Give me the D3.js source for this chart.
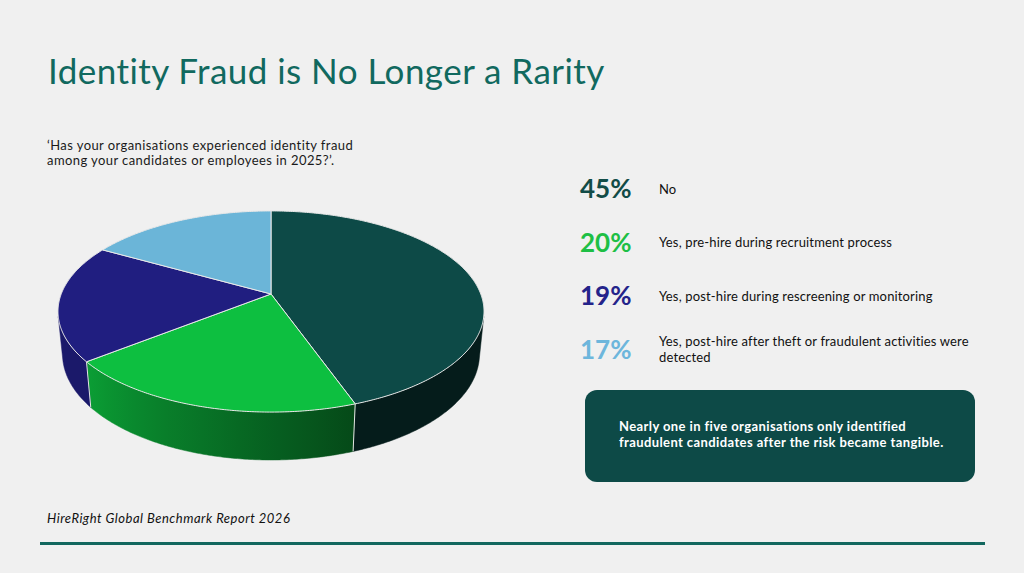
<!DOCTYPE html>
<html>
<head>
<meta charset="utf-8">
<script src="https://cdn.jsdelivr.net/npm/d3@7"></script>
<style>
  body { margin: 0; background: #f0f0f0; }
  svg { display: block; }
  text { font-family: Lato, "Open Sans", sans-serif; }
</style>
</head>
<body>
<div id="canvas"></div>
<script>
var width = 1024;
var height = 573;

// survey answers, clockwise from 12 o'clock
var answers = ["No", "Yes, pre-hire during recruitment process", "Yes, post-hire during rescreening or monitoring", "Yes, post-hire after theft or fraudulent activities were detected"];
var shares = [45, 20, 19, 17];
var pctLabels = ["45%", "20%", "19%", "17%"];
var sliceColors = ["#0d4a47", "#0dbf40", "#201e80", "#6bb5d8"];
var pctColors = ["#124c47", "#1ebf45", "#24238a", "#6db6dc"];
var labelLines = [["No"], ["Yes, pre-hire during recruitment process"], ["Yes, post-hire during rescreening or monitoring"], ["Yes, post-hire after theft or fraudulent activities were", "detected"]];

function createCanvas(select, width, height, color) {
  return d3
    .select(select)
    .append("svg")
    .attr("width", width)
    .attr("height", height)
    .style("background-color", color);
}

var canvas = createCanvas("#canvas", width, height, "#f0f0f0");

// title + question
canvas.append("text")
  .attr("x", 48)
  .attr("y", 84)
  .attr("font-size", 35)
  .attr("letter-spacing", 0.45)
  .attr("fill", "#11695f")
  .text("Identity Fraud is No Longer a Rarity");

var question = ["\u2018Has your organisations experienced identity fraud", "among your candidates or employees in 2025?\u2019."];
canvas.selectAll(".question")
  .data(question)
  .join("text")
  .attr("class", "question")
  .attr("x", 47)
  .attr("y", function (d, i) { return 150 + i * 15; })
  .attr("font-size", 13)
  .attr("letter-spacing", 0.42)
  .attr("fill", "#1a1a1a")
  .text(function (d) { return d; });

// ---- 3d pie with perspective ----
var cam = {
  cx: 271, cy: 294,   // screen pos of pie centre
  f: 1066.7,          // focal length
  dist: 5.085,        // camera distance (in pie radii)
  tilt: 27.7 * Math.PI / 180,
  depth: 0.232        // thickness (in pie radii)
};
var sinT = Math.sin(cam.tilt), cosT = Math.cos(cam.tilt);

function project(theta, h) {
  var X = Math.sin(theta), Y = Math.cos(theta);
  var z = cam.dist + Y * cosT - h * sinT;
  var up = Y * sinT + h * cosT;
  return [cam.cx + cam.f * X / z, cam.cy - cam.f * up / z];
}

// visible side wall lies between the two silhouette angles
var silA = Math.acos(-1 / (cam.dist * cosT));
var silB = 2 * Math.PI - silA;

function arcPoints(a0, a1, h) {
  var n = Math.max(2, Math.ceil(Math.abs(a1 - a0) / 0.01));
  return d3.range(n + 1).map(function (k) {
    return project(a0 + (a1 - a0) * k / n, h);
  });
}

// shading of the wall: lit from the left
function wallShade(theta) {
  var t = (theta * 180 / Math.PI - 160) / 72;
  t = Math.max(0, Math.min(1, t));
  return 0.38 + 0.45 * t;
}
function shadeColor(col, k) {
  var c = d3.rgb(col);
  return d3.rgb(c.r * k, c.g * k, c.b * k).formatHex();
}

var pie = d3.pie().sort(null).startAngle(0).endAngle(2 * Math.PI);
var slices = pie(shares).map(function (d, i) {
  d.color = sliceColors[i];
  d.i = i;
  return d;
});

var line = d3.line();
var defs = canvas.append("defs");
var pieG = canvas.append("g");

// walls
var walls = slices.filter(function (d) {
  return d.endAngle > silA && d.startAngle < silB;
}).map(function (d) {
  d.w0 = Math.max(d.startAngle, silA);
  d.w1 = Math.min(d.endAngle, silB);
  return d;
});

walls.forEach(function (d) {
  var p0 = project(d.w0, 0), p1 = project(d.w1, 0);
  var g = defs.append("linearGradient")
    .attr("id", "wall" + d.i)
    .attr("gradientUnits", "userSpaceOnUse")
    .attr("x1", p0[0]).attr("y1", 0)
    .attr("x2", p1[0]).attr("y2", 0);
  d3.range(9).forEach(function (k) {
    var th = d.w0 + (d.w1 - d.w0) * k / 8;
    var px = project(th, 0)[0];
    g.append("stop")
      .attr("offset", (px - p0[0]) / (p1[0] - p0[0]))
      .attr("stop-color", shadeColor(d.color, wallShade(th)));
  });
});

pieG.selectAll(".wall")
  .data(walls)
  .join("path")
  .attr("class", "wall")
  .attr("d", function (d) {
    var pts = arcPoints(d.w0, d.w1, 0).concat(arcPoints(d.w1, d.w0, -cam.depth));
    return line(pts) + "Z";
  })
  .attr("fill", function (d) { return "url(#wall" + d.i + ")"; })
  .attr("stroke", function (d) { return "url(#wall" + d.i + ")"; })
  .attr("stroke-width", 0.5);

// vertical seams on the wall
var seams = slices.map(function (d) { return d.startAngle; })
  .filter(function (a) { return a > silA && a < silB; });
pieG.selectAll(".seam")
  .data(seams)
  .join("path")
  .attr("class", "seam")
  .attr("d", function (a) { return line([project(a, 0), project(a, -cam.depth)]); })
  .attr("stroke", "#e4e4e4")
  .attr("stroke-width", 1);

// top face
pieG.selectAll(".top")
  .data(slices)
  .join("path")
  .attr("class", "top")
  .attr("d", function (d) {
    var pts = [[cam.cx, cam.cy]].concat(arcPoints(d.startAngle, d.endAngle, 0));
    return line(pts) + "Z";
  })
  .attr("fill", function (d) { return d.color; })
  .attr("stroke", "#e8e8e8")
  .attr("stroke-width", 1)
  .attr("stroke-linejoin", "round");

// ---- legend ----
var rowY = d3.scalePoint().domain(d3.range(shares.length)).range([198, 358.5]);

var legend = canvas.selectAll(".row")
  .data(answers)
  .join("g")
  .attr("class", "row")
  .attr("transform", function (d, i) { return "translate(0," + rowY(i) + ")"; });

legend.append("text")
  .attr("x", 580)
  .attr("font-size", 26)
  .attr("font-weight", "bold")
  .attr("fill", function (d, i) { return pctColors[i]; })
  .text(function (d, i) { return pctLabels[i]; });

legend.each(function (d, i) {
  var lines = labelLines[i];
  d3.select(this).selectAll(".lbl")
    .data(lines)
    .join("text")
    .attr("class", "lbl")
    .attr("x", 659)
    .attr("y", function (t, j) { return -4.5 + (j - (lines.length - 1) / 2) * 16; })
    .attr("font-size", 13)
    .attr("letter-spacing", 0.15)
    .attr("fill", "#111")
    .text(function (t) { return t; });
});

// callout
canvas.append("rect")
  .attr("x", 585)
  .attr("y", 390)
  .attr("width", 390)
  .attr("height", 92)
  .attr("rx", 12)
  .attr("fill", "#0d4a47");

var callout = ["Nearly one in five organisations only identified", "fraudulent candidates after the risk became tangible."];
canvas.selectAll(".callout")
  .data(callout)
  .join("text")
  .attr("class", "callout")
  .attr("x", 619)
  .attr("y", function (d, i) { return 431 + i * 16; })
  .attr("font-size", 13)
  .attr("font-weight", "bold")
  .attr("letter-spacing", 0.4)
  .attr("fill", "#ffffff")
  .text(function (d) { return d; });

// footer
canvas.append("text")
  .attr("x", 47)
  .attr("y", 523)
  .attr("font-size", 13)
  .attr("font-style", "italic")
  .attr("letter-spacing", 0.5)
  .attr("fill", "#111")
  .text("HireRight Global Benchmark Report 2026");

canvas.append("line")
  .attr("x1", 40)
  .attr("x2", 985)
  .attr("y1", 543.5)
  .attr("y2", 543.5)
  .attr("stroke", "#12675e")
  .attr("stroke-width", 3);
</script>
</body>
</html>
